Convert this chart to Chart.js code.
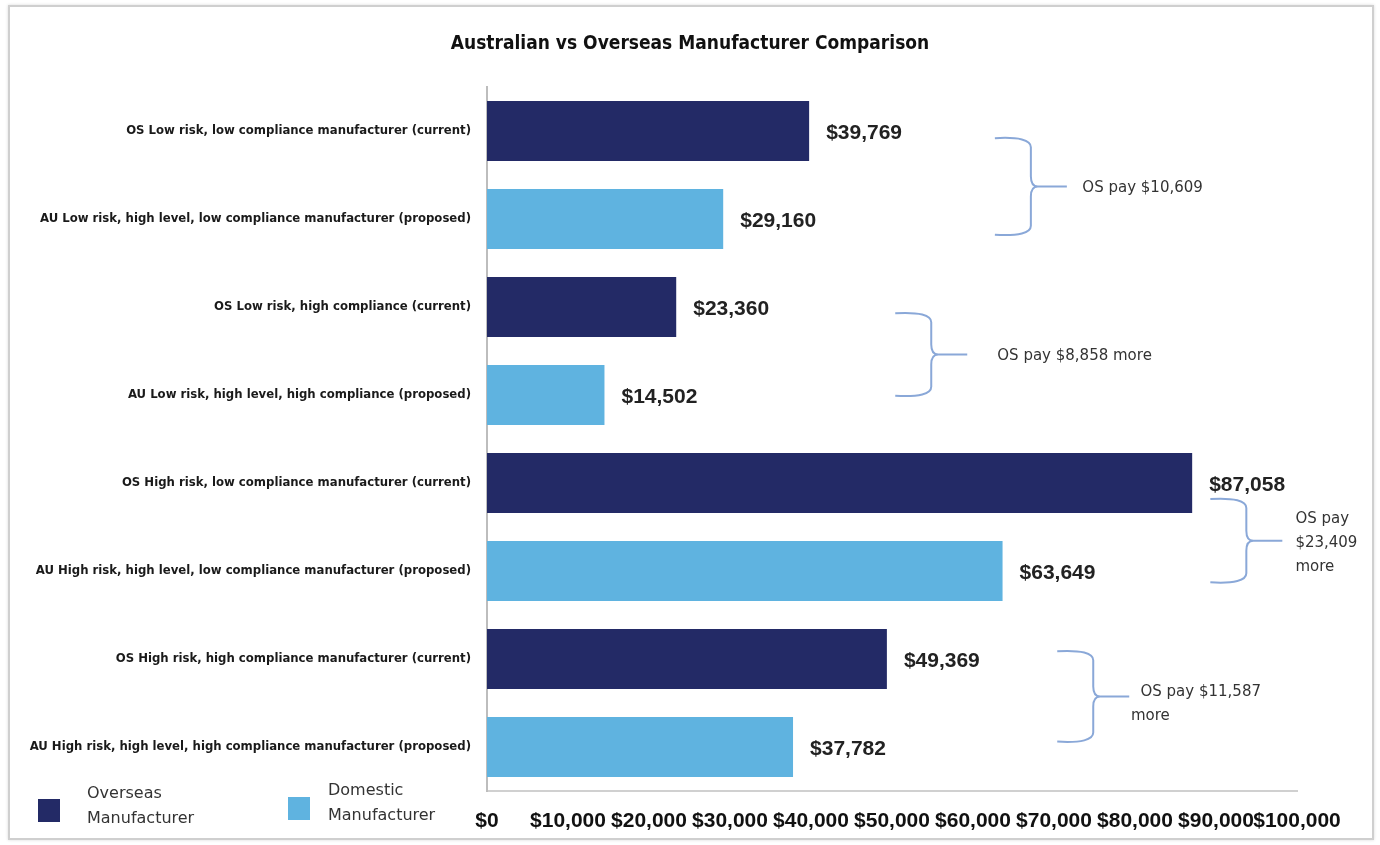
<!DOCTYPE html>
<html lang="en">
<head>
    <meta charset="UTF-8">
    <title>Australian vs Overseas Manufacturer Comparison</title>
    <script src="https://cdn.jsdelivr.net/npm/chart.js"></script>
    <style>
        body { margin: 0; background: #fff; }
        .wrap { position: relative; width: 1380px; height: 845px; }
        .frame {
            position: absolute; left: 8px; top: 5px; width: 1362px; height: 831px;
            border: 2px solid #cfcfcf; box-shadow: 0 0 3px rgba(0,0,0,0.15);
            pointer-events: none;
        }
        canvas { position: absolute; left: 0; top: 0; }
    </style>
</head>
<body>
    <div class="wrap">
        <canvas id="compareChart" width="1380" height="845"></canvas>
        <div class="frame"></div>
    </div>

    <script>
        // data
        const categories = [
            'OS Low risk, low compliance manufacturer (current)',
            'AU Low risk, high level, low compliance manufacturer (proposed)',
            'OS Low risk, high compliance (current)',
            'AU Low risk, high level, high compliance (proposed)',
            'OS High risk, low compliance manufacturer (current)',
            'AU High risk, high level, low compliance manufacturer (proposed)',
            'OS High risk, high compliance manufacturer (current)',
            'AU High risk, high level, high compliance manufacturer (proposed)'
        ];
        const overseasCost = [39769, null, 23360, null, 87058, null, 49369, null];
        const domesticCost = [null, 29160, null, 14502, null, 63649, null, 37782];
        const xTicks = [0, 10000, 20000, 30000, 40000, 50000, 60000, 70000, 80000, 90000, 100000];

        // brace notes: span in category index units, x in dollar units
        const notes = [
            { from: 0.07, to: 1.19, x: 62700, textX: 73500, lines: ['OS pay $10,609'] },
            { from: 2.06, to: 3.02, x: 50400, textX: 63000, lines: ['OS pay $8,858 more'] },
            { from: 4.17, to: 5.14, x: 89300, textX: 99800, lines: ['OS pay', '$23,409', 'more'] },
            { from: 5.90, to: 6.95, x: 70400, textX: 79500, lines: ['  OS pay $11,587', 'more'] }
        ];

        const NAVY = '#232a66';
        const SKY = '#5fb3e0';
        const CONDENSED = '"Liberation Sans Narrow", "DejaVu Sans Condensed", sans-serif';
        const money = v => '$' + v.toLocaleString('en-US');

        // 値ラベル
        const valueLabels = {
            id: 'valueLabels',
            afterDatasetsDraw(chart) {
                const ctx = chart.ctx;
                ctx.save();
                ctx.font = 'bold 21px "Liberation Sans", Arial, sans-serif';
                ctx.fillStyle = '#222';
                ctx.textAlign = 'left';
                ctx.textBaseline = 'middle';
                chart.data.datasets.forEach((ds, di) => {
                    chart.getDatasetMeta(di).data.forEach((bar, i) => {
                        const v = ds.data[i];
                        if (v === null) return;
                        ctx.fillText(money(v), bar.x + 17, bar.y + 2);
                    });
                });
                ctx.restore();
            }
        };

        // braces, title, legend
        const extras = {
            id: 'extras',
            afterDraw(chart) {
                const ctx = chart.ctx;
                const xs = chart.scales.x, ys = chart.scales.y;
                ctx.save();

                // title (slightly condensed)
                ctx.save();
                ctx.translate(chart.width / 2, 44);
                ctx.scale(0.95, 1);
                ctx.font = 'bold 20px ' + CONDENSED;
                ctx.fillStyle = '#111';
                ctx.textAlign = 'center';
                ctx.textBaseline = 'middle';
                ctx.fillText('Australian vs Overseas Manufacturer Comparison', 0, 0);
                ctx.restore();

                // braces
                notes.forEach(n => {
                    const top = ys.getPixelForValue(n.from);
                    const bot = ys.getPixelForValue(n.to);
                    const mid = (top + bot) / 2;
                    const x0 = xs.getPixelForValue(n.x);
                    const sx = x0 + 36, r = 10;
                    ctx.strokeStyle = '#8aa8d8';
                    ctx.lineWidth = 2;
                    ctx.beginPath();
                    ctx.moveTo(x0, top + 1);
                    ctx.quadraticCurveTo(sx, top - 1, sx, top + r);
                    ctx.lineTo(sx, mid - r);
                    ctx.quadraticCurveTo(sx, mid, sx + 7, mid);
                    ctx.quadraticCurveTo(sx, mid, sx, mid + r);
                    ctx.lineTo(sx, bot - r);
                    ctx.quadraticCurveTo(sx, bot + 1, x0, bot - 1);
                    ctx.moveTo(sx + 7, mid);
                    ctx.lineTo(sx + 36, mid);
                    ctx.stroke();

                    ctx.font = '15px "DejaVu Sans", Verdana, sans-serif';
                    ctx.fillStyle = '#333';
                    ctx.textAlign = 'left';
                    ctx.textBaseline = 'middle';
                    const tx = xs.getPixelForValue(n.textX);
                    const lh = 24;
                    const y0 = mid - (n.lines.length - 1) * lh / 2 + (n.lines.length === 2 ? 8 : 2);
                    n.lines.forEach((t, k) => ctx.fillText(t, tx, y0 + k * lh));
                });

                // legend
                const legendX = [38, 288];
                const legendTextX = [87, 328];
                ctx.font = '16px "DejaVu Sans", Verdana, sans-serif';
                ctx.textAlign = 'left';
                ctx.textBaseline = 'middle';
                chart.data.datasets.forEach((ds, i) => {
                    ctx.fillStyle = ds.backgroundColor;
                    ctx.fillRect(legendX[i], 799 - i * 2, 22, 23);
                    ctx.fillStyle = '#333';
                    ds.label.split(' ').forEach((w, k) => ctx.fillText(w, legendTextX[i], 794 - i * 3 + k * 25));
                });

                ctx.restore();
            }
        };

        new Chart(document.getElementById('compareChart'), {
            type: 'bar',
            data: {
                labels: categories,
                datasets: [{
                    label: 'Overseas Manufacturer',
                    data: overseasCost,
                    backgroundColor: NAVY
                }, {
                    label: 'Domestic Manufacturer',
                    data: domesticCost,
                    backgroundColor: SKY
                }]
            },
            options: {
                indexAxis: 'y',
                responsive: false,
                animation: false,
                devicePixelRatio: 1,
                grouped: false,
                categoryPercentage: 0.8,
                barPercentage: 0.85,
                layout: { padding: { top: 87, right: 83, bottom: 0, left: 0 } },
                scales: {
                    x: {
                        min: 0,
                        max: 100000,
                        afterBuildTicks: s => { s.ticks = xTicks.map(v => ({ value: v })); },
                        afterFit: s => { s.height = 54; },
                        grid: { display: false, drawTicks: false },
                        border: { color: '#d0d0d0', width: 2 },
                        ticks: {
                            autoSkip: false,
                            maxRotation: 0,
                            padding: 18,
                            color: '#111',
                            font: { family: '"Liberation Sans", Arial, sans-serif', size: 21, weight: 'bold' },
                            callback: v => money(v)
                        }
                    },
                    y: {
                        afterFit: s => { s.width = 487; },
                        grid: { display: false, drawTicks: false },
                        border: { color: '#bdbdbd', width: 2 },
                        ticks: {
                            autoSkip: false,
                            padding: 16,
                            color: '#1a1a1a',
                            font: { family: CONDENSED, size: 13, weight: 'bold' }
                        }
                    }
                },
                plugins: {
                    legend: { display: false },
                    title: { display: false },
                    tooltip: { enabled: false }
                }
            },
            plugins: [valueLabels, extras]
        });
    </script>
</body>
</html>
